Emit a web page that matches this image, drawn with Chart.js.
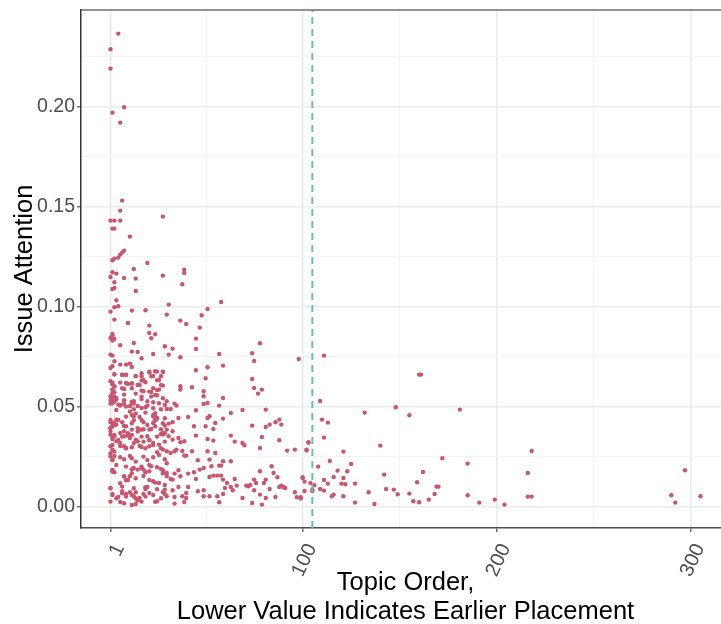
<!DOCTYPE html>
<html>
<head>
<meta charset="utf-8">
<script src="https://cdn.jsdelivr.net/npm/chart.js@4.4.0/dist/chart.umd.min.js"></script>
<style>
  html, body { margin: 0; padding: 0; background: #fff; overflow: hidden; }
</style>
</head>
<body>
<canvas id="attention" width="734" height="624"></canvas>
<script>
// topic position in the text (1 = first) and share of attention per topic
const topicOrder = [
  5, 1, 1, 8, 2, 6, 7, 6, 1, 3,
  6, 2, 3, 11, 28, 8, 7, 6, 5, 3,
  2, 20, 13, 2, 4, 1, 8, 14, 28, 38,
  39, 39, 2, 3, 14, 3, 4, 58, 31, 5,
  3, 1, 12, 19, 51, 48, 30, 37, 40, 10,
  3, 21, 47, 24, 21, 22, 2, 2, 1, 3,
  2, 13, 45, 6, 29, 33, 45, 78, 12, 15,
  23, 31, 37, 1, 2, 17, 57, 74, 75, 98,
  3, 6, 9, 11, 12, 1, 2, 51, 59, 45,
  3, 7, 9, 14, 21, 24, 28, 27, 17, 22,
  17, 50, 74, 1, 2, 3, 9, 12, 15, 19,
  25, 28, 37, 37, 43, 49, 75, 77, 79, 2,
  3, 8, 18, 22, 26, 1, 2, 4, 3, 8,
  14, 8, 13, 20, 25, 17, 20, 23, 30, 34,
  49, 51, 49, 57, 59, 1, 5, 6, 8, 11,
  13, 17, 30, 32, 35, 45, 63, 69, 4, 1,
  2, 3, 7, 9, 1, 2, 4, 13, 13, 14,
  16, 18, 23, 24, 25, 24, 23, 24, 22, 21,
  16, 17, 12, 8, 6, 3, 2, 1, 4, 6,
  8, 10, 11, 14, 15, 13, 9, 8, 1, 2,
  3, 1, 2, 20, 21, 23, 27, 28, 28, 30,
  33, 31, 29, 36, 33, 37, 36, 39, 31, 33,
  41, 45, 44, 50, 51, 54, 51, 52, 54, 55,
  59, 63, 65, 69, 70, 74, 79, 78, 81, 81,
  83, 86, 88, 89, 88, 92, 96, 102, 103, 21,
  17, 25, 26, 28, 30, 32, 34, 35, 39, 40,
  43, 38, 46, 51, 52, 55, 59, 63, 57, 53,
  58, 2, 3, 8, 9, 11, 13, 15, 17, 18,
  19, 21, 22, 27, 28, 30, 30, 32, 33, 34,
  36, 37, 41, 44, 45, 47, 49, 52, 54, 56,
  58, 59, 61, 65, 66, 71, 72, 73, 75, 76,
  78, 80, 81, 84, 85, 87, 89, 91, 96, 97,
  99, 100, 104, 105, 1, 2, 5, 6, 7, 9,
  11, 13, 14, 16, 15, 14, 19, 20, 21, 23,
  26, 25, 28, 30, 29, 33, 34, 34, 36, 38,
  40, 41, 40, 39, 46, 49, 49, 52, 56, 57,
  60, 59, 63, 64, 69, 74, 75, 78, 79, 81,
  83, 86, 88, 90, 111, 160, 161, 109, 148, 132,
  155, 181, 110, 113, 111, 103, 102, 140, 121, 218,
  172, 114, 125, 185, 108, 297, 118, 123, 162, 142,
  216, 116, 121, 100, 101, 111, 159, 113, 120, 122,
  127, 106, 169, 170, 109, 111, 101, 105, 143, 147,
  134, 149, 155, 168, 116, 115, 121, 185, 216, 218,
  290, 305, 165, 199, 99, 127, 157, 160, 137, 191,
  204, 292,
  // crowded block of early topics
  3, 7, 9, 14, 17, 21, 23, 25, 28, 2, 6, 10, 12, 16, 18, 26, 27, 3, 7, 12, 17, 21, 23, 25,
  2, 3, 1, 4, 8, 12, 17, 22, 24, 28, 2, 6, 9, 12, 15, 19, 23, 26, 29, 4, 11, 13, 19, 24, 27,
  1, 2, 3, 5, 9, 12, 8, 12, 17, 20, 23, 24, 25, 28, 29, 15, 18, 27, 1,
  1, 3, 2, 5, 7, 10, 12, 15, 17, 18, 21, 23, 25, 29, 29, 2, 6, 9, 12, 16, 19, 27,
  1, 3, 2, 6, 8, 11, 12, 14, 18, 20, 23, 26, 29, 30, 4, 9, 12, 17, 21, 25, 2,
  2, 8, 10, 12, 14, 18, 21, 24, 28, 29, 1, 6, 7, 13, 19, 25,
  2, 4, 7, 9, 12, 14, 18, 19, 23, 27, 29, 1, 8, 12, 17, 24
];
const issueAttention = [
  .2365, .2287, .219, .1997, .197, .192, .153, .148, .143, .143,
  .143, .139, .139, .135, .145, .128, .127, .126, .1245, .124,
  .1232, .1218, .1188, .1172, .1165, .1148, .1143, .114, .1155, .1112,
  .1185, .1168, .1088, .1093, .1078, .1122, .1032, .1023, .101, .1002,
  .0997, .0975, .098, .0982, .0988, .0957, .096, .093, .0913, .0918,
  .0935, .0905, .0895, .0862, .0868, .0842, .0863, .0855, .0843, .0838,
  .083, .0818, .084, .0807, .0802, .079, .0788, .0817, .0775, .0773,
  .0763, .076, .0747, .076, .0755, .0742, .0763, .0767, .0728, .0738,
  .0727, .071, .071, .0715, .0698, .0693, .0702, .0697, .0705, .0682,
  .066, .066, .066, .0652, .0675, .0677, .0673, .0652, .0652, .0652,
  .063, .0642, .0638, .0627, .0612, .0602, .0618, .0615, .0608, .0622,
  .0632, .0605, .0602, .0585, .0597, .0577, .0593, .0565, .0585, .0585,
  .0572, .0588, .0577, .0573, .0585, .0552, .0538, .0543, .0527, .056,
  .0565, .0532, .0527, .0527, .0557, .0538, .0505, .0522, .0527, .0515,
  .0552, .0518, .0513, .0505, .0543, .0515, .051, .0505, .0513, .0502,
  .0515, .0493, .0488, .0488, .0505, .0482, .0468, .0483, .0435, .0422,
  .0415, .0418, .0422, .0402, .0393, .0402, .041, .0452, .0432, .0465,
  .0448, .0422, .0458, .0452, .0443, .0432, .0418, .0402, .0388, .0385,
  .0385, .0385, .0385, .0377, .0368, .0352, .0338, .036, .0327, .0318,
  .0352, .0355, .0343, .0335, .0327, .0318, .0293, .0302, .0302, .0285,
  .0275, .0252, .0235, .0352, .0332, .0318, .0363, .0368, .036, .0385,
  .0377, .0415, .0405, .0443, .0422, .0322, .0343, .0327, .0352, .0335,
  .0448, .0355, .0402, .0402, .0338, .033, .0443, .0452, .0388, .0418,
  .044, .0355, .0325, .0318, .0307, .0405, .0348, .0293, .0485, .0398,
  .041, .0422, .0435, .041, .0332, .028, .0285, .0285, .0322, .0302,
  .0298, .0272, .031, .0285, .0277, .0268, .0277, .0285, .0255, .0255,
  .0277, .0278, .0232, .0277, .0235, .0268, .0227, .0227, .0205, .0202,
  .0205, .0182, .0172, .0152, .0132, .0152, .0193, .0185, .0193, .0185,
  .0172, .0177, .0202, .0188, .0182, .0168, .0152, .0138, .0135, .0165,
  .0182, .0152, .0165, .0172, .0138, .0185, .0193, .0148, .0155, .0155,
  .0155, .0135, .0118, .0138, .0105, .0105, .0102, .0108, .0135, .0118,
  .0177, .0118, .0135, .0202, .0168, .0147, .0105, .0093, .0072, .0047,
  .0047, .0143, .0118, .0085, .0093, .0063, .0048, .0023, .0077, .0063,
  .0072, .0052, .0072, .0043, .0032, .0013, .0088, .0098, .0068, .0127,
  .0118, .0027, .0072, .0052, .0085, .0082, .0048, .0015, .0098, .0052,
  .0068, .0098, .0043, .0023, .0077, .0052, .0082, .0052, .0052, .0022,
  .0093, .0063, .0098, .0082, .0043, .0018, .0082, .006, .001, .0043,
  .0088, .0048, .0098, .0098, .0755, .066, .066, .0528, .0497, .047,
  .0457, .0485, .0435, .042, .0345, .032, .028, .0305, .0275, .0278,
  .0242, .0228, .0213, .0215, .02, .0182, .018, .0177, .0173, .016,
  .0168, .0148, .0143, .0147, .0125, .0133, .0122, .0115, .0115, .0112,
  .0115, .0107, .01, .01, .0088, .008, .0078, .0078, .0088, .0085,
  .0072, .0062, .0065, .0063, .006, .0052, .0052, .0057, .005, .005,
  .0057, .0052, .0035, .0035, .004, .002, .0027, .0022, .0013, .002,
  .001, .002,
  // crowded block of early topics
  .0663, .0658, .0658, .0653, .0667, .067, .0653, .0675, .0675, .062, .062, .0613, .0617, .0608, .0633, .0633, .0608, .06, .0592, .0592, .058, .0575, .0592, .0583,
  .0567, .055, .0533, .0537, .053, .0525, .055, .055, .0558, .0542, .0517, .0508, .05, .0517, .0503, .0497, .0492, .0517, .0508, .0483, .0475, .0487, .047, .0467, .0487,
  .0433, .042, .0408, .0433, .045, .0458, .0403, .0417, .0433, .0408, .045, .043, .0442, .0417, .0442, .0392, .0387, .0387, .0392,
  .0375, .0358, .035, .0333, .035, .0367, .0358, .0375, .035, .0325, .0333, .0308, .035, .0367, .0325, .0308, .0303, .0292, .0297, .0303, .0292, .0292,
  .0267, .0253, .0233, .0247, .0237, .0253, .0242, .0225, .025, .0233, .0247, .0258, .0237, .0217, .0208, .02, .0187, .02, .0208, .0197, .0183,
  .0175, .015, .0133, .0167, .0142, .0153, .0133, .012, .0167, .0108, .0092, .0117, .01, .0092, .0097, .0087,
  .0058, .0042, .0067, .005, .0058, .0042, .0063, .005, .0058, .0042, .0063, .0025, .0017, .0008, .0025, .0024
];

// median placement, drawn as a dashed reference line
const placementCutoff = 105;

const xTicks = [1, 50.5, 100, 150, 200, 250, 300];
const xTickLabels = ['1', '', '100', '', '200', '', '300'];
const yTicks = [0, 0.025, 0.05, 0.075, 0.1, 0.125, 0.15, 0.175, 0.2, 0.225];
const yTickLabels = ['0.00', '', '0.05', '', '0.10', '', '0.15', '', '0.20', ''];

const xRange = [-14.2, 320.2];
const yRange = [-0.0107, 0.2483];

const pointColor = '#c9566f';
const cutoffColor = '#66c2a5';
const gridMajor = '#ebebeb';
const gridMinor = '#f3f3f3';

function isMajor(ticks, labels, value) {
  const i = ticks.indexOf(value);
  return i >= 0 && labels[i] !== '';
}

const points = topicOrder.map((x, i) => ({ x: x, y: issueAttention[i] }));

// top edge of the panel
const panelTop = {
  id: 'panelTop',
  afterDraw(chart) {
    const { ctx, chartArea } = chart;
    ctx.save();
    ctx.strokeStyle = '#6e6e6e';
    ctx.lineWidth = 1.5;
    ctx.beginPath();
    ctx.moveTo(chartArea.left, chartArea.top);
    ctx.lineTo(chartArea.right, chartArea.top);
    ctx.stroke();
    ctx.restore();
  }
};

new Chart(document.getElementById('attention'), {
  type: 'scatter',
  data: {
    datasets: [
      {
        type: 'line',
        data: [{ x: placementCutoff, y: yRange[0] }, { x: placementCutoff, y: yRange[1] }],
        borderColor: cutoffColor,
        borderWidth: 2,
        borderDash: [7, 5],
        pointRadius: 0,
        fill: false,
        order: 0
      },
      {
        data: points,
        backgroundColor: pointColor,
        borderWidth: 0,
        pointRadius: 2.2,
        order: 1
      }
    ]
  },
  options: {
    responsive: false,
    devicePixelRatio: 1,
    animation: false,
    layout: { padding: { top: 10, right: 0, bottom: 0, left: 0 } },
    plugins: { legend: { display: false }, tooltip: { enabled: false } },
    scales: {
      x: {
        type: 'linear',
        min: xRange[0],
        max: xRange[1],
        afterBuildTicks(scale) { scale.ticks = xTicks.map(v => ({ value: v })); },
        afterFit(scale) {
          scale.height = 96;
          scale.paddingLeft = 0;
          scale.paddingRight = 0;
        },
        ticks: {
          autoSkip: false,
          minRotation: 65,
          maxRotation: 65,
          padding: 8,
          labelOffset: 9,
          color: '#4d4d4d',
          font: { family: 'Liberation Sans', size: 20 },
          callback(value) { return xTickLabels[xTicks.indexOf(value)]; }
        },
        grid: {
          color: c => isMajor(xTicks, xTickLabels, c.tick.value) ? gridMajor : gridMinor,
          lineWidth: c => isMajor(xTicks, xTickLabels, c.tick.value) ? 1.6 : 1,
          tickColor: c => isMajor(xTicks, xTickLabels, c.tick.value) ? '#4d4d4d' : 'rgba(0,0,0,0)',
          tickLength: 4,
          tickWidth: 1.2
        },
        border: { display: true, color: '#4d4d4d', width: 1.5 },
        title: {
          display: true,
          text: ['Topic Order,', 'Lower Value Indicates Earlier Placement'],
          color: '#000',
          font: { family: 'Liberation Sans', size: 25.5, lineHeight: 1.125 },
          padding: { top: 0, bottom: -2 }
        }
      },
      y: {
        type: 'linear',
        min: yRange[0],
        max: yRange[1],
        afterBuildTicks(scale) { scale.ticks = yTicks.map(v => ({ value: v })); },
        afterFit(scale) {
          scale.width = 81;
          scale.paddingTop = 0;
          scale.paddingBottom = 0;
        },
        ticks: {
          autoSkip: false,
          padding: 2,
          color: '#4d4d4d',
          font: { family: 'Liberation Sans', size: 19.5 },
          callback(value) { return yTickLabels[yTicks.indexOf(value)]; }
        },
        grid: {
          color: c => isMajor(yTicks, yTickLabels, c.tick.value) ? gridMajor : gridMinor,
          lineWidth: c => isMajor(yTicks, yTickLabels, c.tick.value) ? 1.6 : 1,
          tickColor: c => isMajor(yTicks, yTickLabels, c.tick.value) ? '#4d4d4d' : 'rgba(0,0,0,0)',
          tickLength: 4,
          tickWidth: 1.2
        },
        border: { display: true, color: '#333333', width: 1.5 },
        title: {
          display: true,
          text: 'Issue Attention',
          color: '#000',
          font: { family: 'Liberation Sans', size: 25.5 },
          padding: { top: 10, bottom: 0 }
        }
      }
    }
  },
  plugins: [panelTop]
});
</script>
</body>
</html>
